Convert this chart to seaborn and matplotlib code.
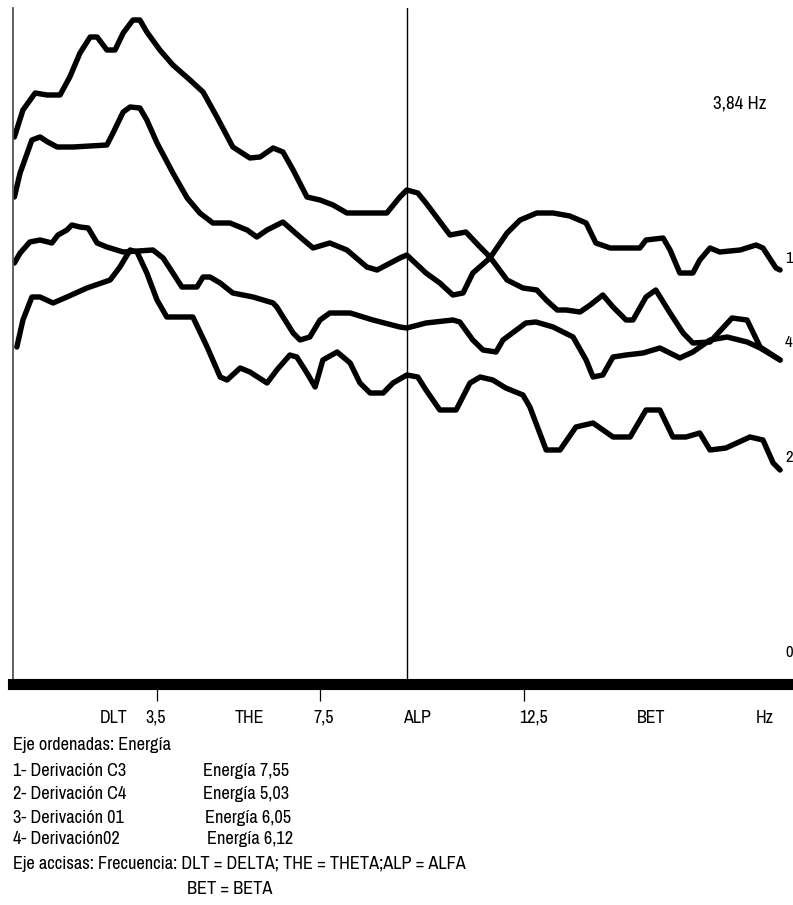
import numpy as np
import pandas as pd
import matplotlib
matplotlib.use("Agg")
import matplotlib.pyplot as plt
from matplotlib import font_manager as fm
import seaborn as sns

# frecuencia (Hz) / energia (unidades relativas)
hz_1 = [0.00, 0.21, 0.51, 0.80, 1.12, 1.36, 1.61, 1.86, 2.03, 2.27,
        2.47, 2.67, 2.91, 3.08, 3.25, 3.57, 3.89, 4.31, 4.63, 4.97,
        5.36, 5.78, 6.03, 6.35, 6.59, 6.84, 7.18, 7.50, 7.82, 8.16,
        9.14, 9.46, 9.63, 9.90, 10.10, 10.69, 11.08, 11.38, 11.67, 12.09,
        12.48, 12.82, 13.05, 13.32, 13.54, 13.88, 14.13, 14.44, 14.69, 15.01,
        15.18, 15.50, 15.74, 16.09, 16.41, 16.65, 17.07, 17.61, 17.98, 18.30,
        18.79]
en_1 = [5.15, 5.42, 5.59, 5.57, 5.57, 5.75, 5.99, 6.15, 6.15, 6.02,
        6.02, 6.19, 6.32, 6.32, 6.20, 6.02, 5.87, 5.72, 5.60, 5.35,
        5.05, 4.94, 4.95, 5.04, 5.00, 4.82, 4.55, 4.52, 4.47, 4.39,
        4.39, 4.55, 4.62, 4.59, 4.49, 4.17, 4.20, 4.07, 3.95, 3.72,
        3.64, 3.62, 3.52, 3.42, 3.42, 3.40, 3.47, 3.57, 3.45, 3.32,
        3.32, 3.55, 3.62, 3.39, 3.19, 3.09, 3.10, 3.34, 3.32, 3.05,
        2.92]

hz_2 = [0.00, 0.14, 0.43, 0.63, 0.82, 1.05, 1.44, 2.27, 2.42, 2.67,
        2.84, 3.08, 3.25, 3.50, 3.89, 4.24, 4.55, 4.87, 5.29, 5.71,
        5.95, 6.20, 6.59, 7.01, 7.33, 7.74, 8.16, 8.65, 8.90, 9.46,
        9.63, 10.10, 10.44, 10.76, 11.01, 11.25, 11.67, 12.09, 12.41, 12.82,
        13.22, 13.63, 14.03, 14.27, 14.62, 15.35, 15.50, 15.92, 16.09, 16.33,
        16.65, 16.82, 17.07, 17.31, 17.81, 18.20, 18.37, 18.69, 18.79]
en_2 = [4.55, 4.79, 5.12, 5.15, 5.10, 5.05, 5.05, 5.07, 5.19, 5.40,
        5.45, 5.44, 5.32, 5.09, 4.79, 4.54, 4.39, 4.29, 4.29, 4.22,
        4.15, 4.22, 4.30, 4.15, 4.04, 4.09, 4.02, 3.85, 3.82, 3.94,
        3.97, 3.79, 3.69, 3.57, 3.59, 3.79, 3.94, 4.19, 4.32, 4.39,
        4.39, 4.36, 4.29, 4.09, 4.04, 4.04, 4.12, 4.14, 4.02, 3.79,
        3.79, 3.92, 4.04, 4.00, 4.02, 4.07, 4.04, 3.84, 3.82]

hz_3 = [0.00, 0.14, 0.38, 0.63, 0.92, 1.07, 1.29, 1.41, 1.61, 1.81,
        2.03, 2.27, 2.67, 3.40, 3.65, 3.89, 4.11, 4.48, 4.63, 4.80,
        5.05, 5.36, 5.86, 6.35, 6.44, 6.84, 7.01, 7.25, 7.50, 7.74,
        8.24, 8.80, 9.46, 9.63, 10.10, 10.76, 10.93, 11.25, 11.50, 11.82,
        11.99, 12.55, 12.80, 13.22, 13.71, 14.03, 14.20, 14.44, 14.69, 15.01,
        15.43, 15.84, 16.33, 16.65, 17.07, 17.49, 17.98, 18.30, 18.79]
en_3 = [3.89, 3.99, 4.10, 4.12, 4.09, 4.17, 4.22, 4.27, 4.25, 4.24,
        4.09, 4.05, 4.00, 4.02, 3.94, 3.79, 3.65, 3.65, 3.75, 3.75,
        3.69, 3.59, 3.55, 3.49, 3.45, 3.19, 3.12, 3.15, 3.32, 3.39,
        3.39, 3.32, 3.25, 3.24, 3.29, 3.32, 3.30, 3.12, 3.02, 3.00,
        3.12, 3.29, 3.30, 3.25, 3.15, 2.92, 2.75, 2.77, 2.95, 2.97,
        2.99, 3.04, 2.94, 3.00, 3.12, 3.15, 3.10, 3.04, 2.92]

hz_4 = [0.06, 0.21, 0.43, 0.63, 0.95, 1.29, 1.78, 2.35, 2.59, 2.84,
        3.01, 3.25, 3.50, 3.74, 4.38, 4.73, 5.05, 5.22, 5.54, 5.78,
        6.20, 6.44, 6.76, 6.93, 7.18, 7.38, 7.57, 7.92, 8.24, 8.48,
        8.73, 9.05, 9.29, 9.63, 9.90, 10.10, 10.44, 10.84, 11.18, 11.43,
        11.74, 12.06, 12.48, 12.65, 13.05, 13.39, 13.78, 14.20, 14.69, 15.11,
        15.50, 15.84, 16.16, 16.48, 16.82, 17.07, 17.46, 18.05, 18.37, 18.62,
        18.79]
en_4 = [3.05, 3.32, 3.55, 3.55, 3.49, 3.55, 3.64, 3.72, 3.85, 4.02,
        4.00, 3.79, 3.52, 3.35, 3.35, 3.05, 2.75, 2.72, 2.84, 2.80,
        2.69, 2.82, 2.97, 2.95, 2.79, 2.65, 2.92, 3.00, 2.89, 2.69,
        2.59, 2.59, 2.69, 2.77, 2.75, 2.62, 2.42, 2.42, 2.69, 2.75,
        2.72, 2.64, 2.57, 2.45, 2.02, 2.02, 2.25, 2.29, 2.15, 2.15,
        2.42, 2.42, 2.15, 2.15, 2.19, 2.02, 2.04, 2.15, 2.12, 1.89,
        1.82]

derivaciones = ["O2", "C3", "O1", "C4"]
end_labels = ["1", "4", "2", "0"]
end_label_y = [3.94, 3.10, 1.95, 0.0]

tick_pos = [3.5, 7.5, 12.5]
band_pos = [2.44, 3.47, 5.76, 7.60, 9.89, 12.73, 15.62, 18.42]
band_labels = ["DLT", "3,5", "THE", "7,5", "ALP", "12,5", "BET", "Hz"]
alfa_line = 9.63

caption = [
    ("Eje ordenadas: Energía", None),
    ("1- Derivación C3", "Energía 7,55"),
    ("2- Derivación C4", "Energía 5,03"),
    ("3- Derivación 01", "Energía 6,05"),
    ("4- Derivación02", "Energía 6,12"),
    ("Eje accisas: Frecuencia: DLT = DELTA; THE = THETA;ALP = ALFA", None),
]


def pick_font():
    # a narrow face if there is one, else Liberation Sans a bit smaller
    fonts = fm.fontManager.ttflist
    names = {f.name for f in fonts}
    if "Liberation Sans Narrow" in names:
        return "Liberation Sans Narrow", "normal", 12
    for f in fonts:
        if "Narrow" in f.name or "Condensed" in f.name:
            return f.name, "normal", 12
    for f in fonts:
        if f.name == "DejaVu Sans" and f.stretch in ("condensed", "semi-condensed"):
            return "DejaVu Sans", "condensed", 11.5
    return "Liberation Sans", "normal", 11


sns.set_theme(style="white")
family, stretch, fsize = pick_font()
plt.rcParams['font.family'] = [family, 'DejaVu Sans']
plt.rcParams['font.stretch'] = stretch
plt.rcParams['text.color'] = 'black'
plt.rcParams['xtick.color'] = 'black'
plt.rcParams['xtick.labelcolor'] = 'black'
cap_size = fsize * 1.1

frames = []
for name, xs, ys in zip(derivaciones, [hz_1, hz_2, hz_3, hz_4], [en_1, en_2, en_3, en_4]):
    frames.append(pd.DataFrame({"frecuencia": xs, "energia": ys, "derivacion": name}))
df = pd.concat(frames, ignore_index=True)

W, H = 793, 905
fig = plt.figure(figsize=(W / 100, H / 100), dpi=100)
ax = fig.add_axes([13 / W, 1 - 683.5 / H, 1 - 13 / W, (683.5 - 8) / H])

sns.lineplot(data=df, x="frecuencia", y="energia", hue="derivacion",
             palette=["black"] * 4, sort=False, estimator=None,
             linewidth=3.9, legend=False, ax=ax)

ax.axvline(alfa_line, color="black", lw=1.0)
ax.set_xlim(-0.034, 19.107)
ax.set_ylim(-0.315, 6.44)

for s in ["top", "right"]:
    ax.spines[s].set_visible(False)
ax.spines["bottom"].set_linewidth(8)
ax.spines["bottom"].set_color("black")
ax.spines["left"].set_linewidth(1.3)
ax.spines["left"].set_color("#555555")

ax.set_xticks(tick_pos, labels=[""] * len(tick_pos))
ax.set_xticks(band_pos, labels=band_labels, minor=True)
ax.tick_params(axis="x", which="major", direction="out", length=12, width=0.9,
               color="black", bottom=True)
ax.tick_params(axis="x", which="minor", length=0, pad=19, labelsize=fsize * 1.08,
               bottom=True, labelcolor="black")
ax.set_yticks([])
ax.set_xlabel("")
ax.set_ylabel("")

# end-of-trace numbers sit right against the right edge
for lab, yv in zip(end_labels, end_label_y):
    ax.text(19.10, yv, lab, fontsize=fsize, ha="right", va="center", clip_on=False)
ax.text(17.79, 5.49, "3,84 Hz", fontsize=cap_size * 1.03, ha="center", va="center")

baselines = [750, 776, 799, 823, 844, 869]
second_x = [None, 203, 203, 205, 207, None]
for (left, right), yb, xr in zip(caption, baselines, second_x):
    fig.text(13 / W, 1 - yb / H, left, fontsize=cap_size, va="baseline")
    if right:
        fig.text(xr / W, 1 - yb / H, right, fontsize=cap_size, va="baseline")
fig.text(187 / W, 1 - 894 / H, "BET = BETA", fontsize=cap_size, va="baseline")

fig.savefig("out.png", dpi=100)
